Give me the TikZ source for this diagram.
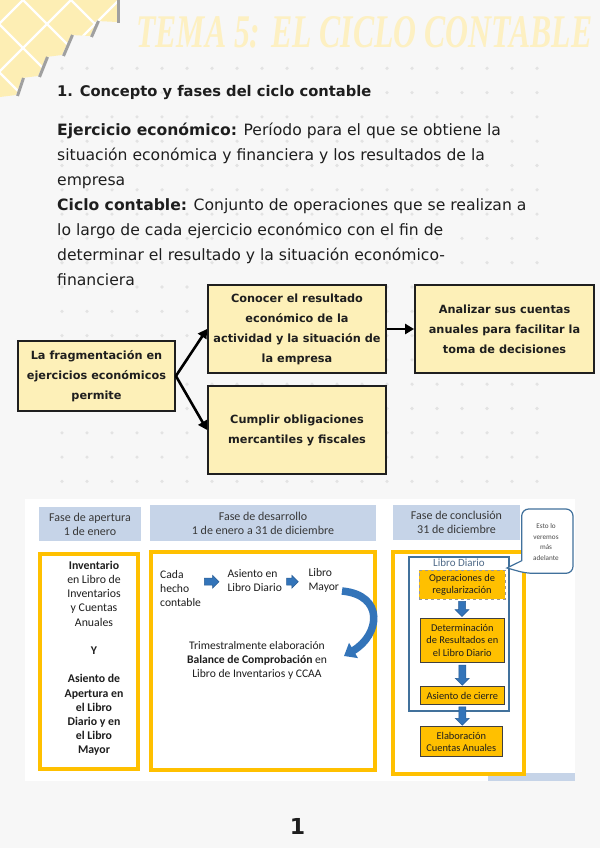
\documentclass[tikz,border=0pt]{standalone}
\usepackage{fontspec}
\usepackage{graphicx}
\setmainfont{DejaVu Sans}
\newfontfamily\calib{Carlito}
\newfontfamily\titlef{Liberation Serif}
\usetikzlibrary{arrows.meta,calc}
\definecolor{pagebg}{HTML}{F7F7F7}
\definecolor{dotc}{HTML}{E3E3E3}
\definecolor{deco}{HTML}{FDEEB4}
\definecolor{titlec}{HTML}{FDF0C2}
\definecolor{boxy}{HTML}{FDF0B8}
\definecolor{txt}{HTML}{1E1E1E}
\definecolor{hdrblue}{HTML}{C6D4E8}
\definecolor{hdrtxt}{HTML}{383838}
\definecolor{frameor}{HTML}{FFC000}
\definecolor{boxor}{HTML}{FFC000}
\definecolor{obd}{HTML}{404040}
\definecolor{bluebd}{HTML}{41719C}
\definecolor{ldtxt}{HTML}{4F6A88}
\definecolor{arrowblue}{HTML}{3374B9}
\definecolor{arrowdk}{HTML}{2A5E95}
\definecolor{riserc}{HTML}{A0A0A0}
\newcommand{\rtarrow}[3]{\filldraw[blockarr] (#1,#3-3.5) -- (#2-6.5,#3-3.5) -- (#2-6.5,#3-6.5) -- (#2,#3) -- (#2-6.5,#3+6.5) -- (#2-6.5,#3+3.5) -- (#1,#3+3.5) -- cycle;}
\newcommand{\dnarrow}[2]{\path[blockarr] let \p1=(#1.south), \p2=(#2.north) in (\x1-3.5pt,\y1-2pt) -- (\x1+3.5pt,\y1-2pt) -- (\x1+3.5pt,\y2+8pt) -- (\x1+7pt,\y2+8pt) -- (\x1,\y2+1pt) -- (\x1-7pt,\y2+8pt) -- (\x1-3.5pt,\y2+8pt) -- cycle;}
\begin{document}
\begin{tikzpicture}[x=1pt,y=-1pt,
  body/.style={anchor=base west, inner sep=0pt, font=\fontsize{15.6}{18}\selectfont, text=txt},
  topbox/.style={draw=black!88, line width=1.8pt, fill=boxy, align=center, inner sep=0pt, font=\bfseries\fontsize{11.3}{20}\selectfont, text=txt},
  blackarrow/.style={line width=2.6pt, draw=black, -{Triangle[length=9pt,width=10pt]}},
  hdr/.style={fill=hdrblue, inner sep=0pt, align=center, font=\calib\fontsize{12}{14.2}\selectfont, text=hdrtxt},
  frame/.style={draw=frameor, line width=4pt, fill=white, inner sep=0pt},
  f2txt/.style={inner sep=0pt, align=left, font=\calib\fontsize{11.6}{14}\selectfont, text=txt},
  obox/.style={fill=boxor, draw=obd, line width=0.9pt, align=center, inner sep=0pt, font=\calib\fontsize{10.4}{12.4}\selectfont, text=txt},
  blockarr/.style={fill=arrowblue, draw=arrowdk, line width=0.5pt},
  riser/.style={draw=riserc, line width=3pt}
]
\useasboundingbox (0,0) rectangle (600,848);
\fill[pagebg] (0,0) rectangle (600,848);
% dot grid
\foreach \i in {0,...,19}{\foreach \j in {0,...,17}{\fill[dotc] (62+25*\i,68.3+24.3*\j) circle[radius=1.8pt];}}
% corner decoration
\begin{scope}
\clip (0,0) -- (117,0) -- (117,22) -- (97,21) -- (90,36) -- (71,35) -- (62,55) -- (46,57) -- (38,76) -- (22,78) -- (16,95) -- (0,97) -- cycle;
\fill[deco] (0,0) rectangle (120,100);
\foreach \c in {-121,-73,-25,23,71,119,167,215}{\draw[white,line width=2.2pt] (\c,0) -- ++(120,120); \draw[white,line width=2.2pt] (\c,0) -- ++(-120,120);}
\end{scope}
\draw[riser] (118.5,0) -- (118.5,23);
\draw[riser] (98.5,21) -- (91.5,37);
\draw[riser] (72.5,35) -- (63.5,56);
\draw[riser] (47.5,57) -- (39.5,77);
\draw[riser] (23.5,78) -- (17.5,96);
% title
\node[anchor=south west, inner sep=0pt, text=titlec] (title) at (136,48) {\resizebox{456pt}{31pt}{\titlef\bfseries\itshape TEMA 5: EL CICLO CONTABLE}};
% heading and body
\node[anchor=base west, inner sep=0pt, font=\bfseries\fontsize{14.7}{17}\selectfont, text=txt] (h1) at (57,96.7) {1. Concepto y fases del ciclo contable};
\node[body] (b1) at (57,135.7) {\textbf{Ejercicio económico:} Período para el que se obtiene la};
\node[body] (b2) at (57,160.7) {situación económica y financiera y los resultados de la};
\node[body] (b3) at (57,185.2) {empresa};
\node[body] (b4) at (57,210) {\textbf{Ciclo contable:} Conjunto de operaciones que se realizan a};
\node[body] (b5) at (57,235.7) {lo largo de cada ejercicio económico con el fin de};
\node[body] (b6) at (57,260.7) {determinar el resultado y la situación económico-};
\node[body] (b7) at (57,285) {financiera};
% top diagram
\node[topbox, minimum width=157pt, minimum height=70pt] (L) at (96.5,376) {La fragmentación en\\ejercicios económicos\\permite};
\node[topbox, minimum width=178pt, minimum height=88pt] (C) at (297,329) {Conocer el resultado\\económico de la\\actividad y la situación de\\la empresa};
\node[topbox, minimum width=179pt, minimum height=88pt] (A) at (504.5,329) {Analizar sus cuentas\\anuales para facilitar la\\toma de decisiones};
\node[topbox, minimum width=178pt, minimum height=88pt] (U) at (297,430) {Cumplir obligaciones\\mercantiles y fiscales};
\draw[blackarrow] (L.east) -- (C.west);
\draw[blackarrow] (L.east) -- (U.west);
\draw[blackarrow] (C.east) -- (A.west);
% bottom panel
\fill[white] (25,499) rectangle (575,781);
\fill[hdrblue] (488,773) rectangle (575,781);
\node[hdr, minimum width=102pt, minimum height=34pt] (H1) at (90,524) {Fase de apertura\\1 de enero};
\node[hdr, minimum width=226pt, minimum height=36pt] (H2) at (263,523) {Fase de desarrollo\\1 de enero a 31 de diciembre};
\node[hdr, minimum width=127pt, minimum height=35pt] (H3) at (456.5,522.5) {Fase de conclusión\\31 de diciembre};
\node[frame, minimum width=97.7pt, minimum height=215.3pt] (F1) at (89.15,661.35) {};
\node[frame, minimum width=224pt, minimum height=217.7pt] (F2) at (263,660.85) {};
\node[frame, minimum width=130.7pt, minimum height=222pt] (F3) at (458.35,662.5) {};
% frame 1 text
\node[inner sep=0pt, align=center, font=\calib\fontsize{11.8}{14.2}\selectfont, text=txt] (f1t) at (94,658.3) {\textbf{Inventario}\\en Libro de\\Inventarios\\y Cuentas\\Anuales\\[14.2pt]\textbf{Y}\\[14.2pt]\textbf{Asiento de}\\\textbf{Apertura en}\\\textbf{el Libro}\\\textbf{Diario y en}\\\textbf{el Libro}\\\textbf{Mayor}};
% frame 2 content
\node[f2txt, anchor=west] (cada) at (160,588.3) {Cada\\hecho\\contable};
\node[f2txt, anchor=west] (asi) at (227.3,580.3) {Asiento en\\Libro Diario};
\node[f2txt, anchor=west] (may) at (308.3,580) {Libro\\Mayor};
\rtarrow{204.3}{219}{581.7}
\rtarrow{286.7}{298.3}{581.7}
\draw[line width=7.5pt, draw=arrowblue, -{Triangle[length=11pt,width=17pt]}] (342,591) .. controls (385,595) and (380,635) .. (344,656);
\node[f2txt, align=center] (trim) at (257,660.7) {Trimestralmente elaboración\\\textbf{Balance de Comprobación} en\\Libro de Inventarios y CCAA};
% frame 3 content
\node[draw=bluebd, line width=1.3pt, fill=white, minimum width=100pt, minimum height=154pt, inner sep=0pt] (LD) at (459,634) {};
\node[inner sep=0pt, font=\calib\fontsize{11}{12}\selectfont, text=ldtxt] (ldl) at (459,562.8) {Libro Diario};
\node[obox, draw=gray!80, dashed, minimum width=86pt, minimum height=29pt] (op) at (462,584.5) {Operaciones de\\regularización};
\node[obox, minimum width=83.3pt, minimum height=44.7pt] (det) at (462.3,640.3) {Determinación\\de Resultados en\\el Libro Diario};
\node[obox, minimum width=83.3pt, minimum height=17.6pt] (cie) at (462.3,695.5) {Asiento de cierre};
\node[obox, minimum width=81.3pt, minimum height=30pt] (ela) at (461.3,741.7) {Elaboración\\Cuentas Anuales};
\dnarrow{op}{det}
\dnarrow{det}{cie}
\dnarrow{cie}{ela}
% callout
\draw[draw=bluebd, line width=1.2pt, fill=white] (521.7,560.7) [rounded corners=7pt] -- (521.7,509) -- (573,509) -- (573,573.3) -- (526,573.3) [sharp corners] -- (507,568) -- cycle;
\node[inner sep=0pt, align=center, font=\calib\fontsize{7.2}{10.7}\selectfont, text=black!70] (call) at (546,542) {Esto lo\\veremos\\más\\adelante};
% page number
\node[inner sep=0pt, font=\bfseries\fontsize{22}{24}\selectfont, text=txt] (pg) at (297.5,826) {1};
\end{tikzpicture}
\end{document}
